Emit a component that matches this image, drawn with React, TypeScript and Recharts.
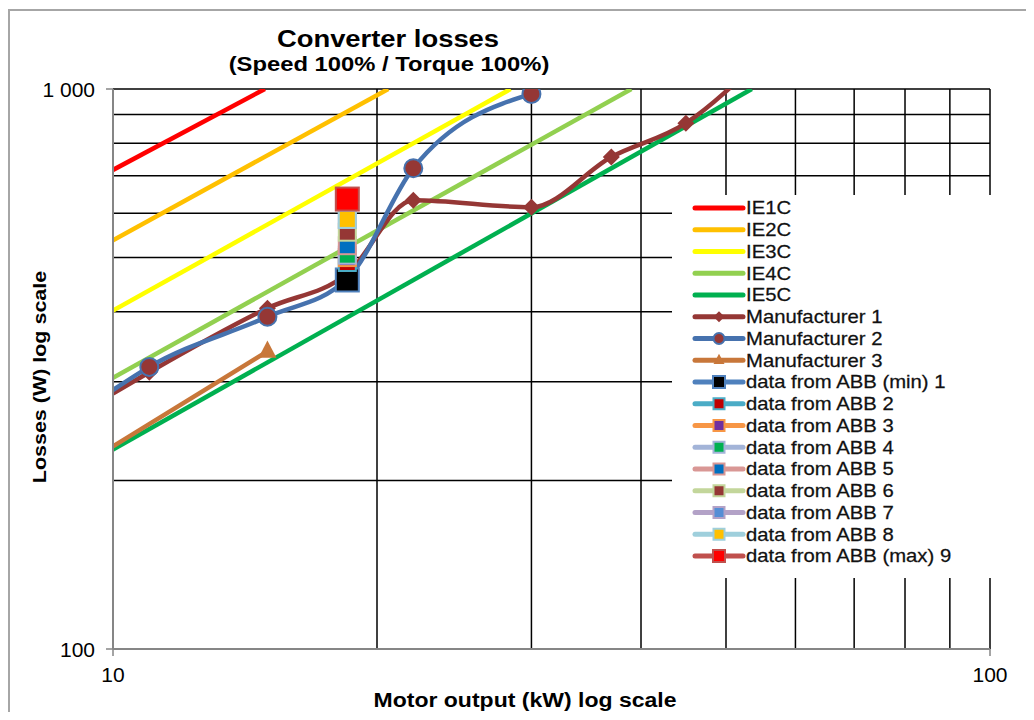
import { CartesianGrid, Line, LineChart, XAxis, YAxis } from "recharts";

// [kW, W] pairs
const ie1c = [[10, 717], [14.9, 1000]];
const ie2c = [[10, 537], [20.6, 1000]];
const ie3c = [[10, 402], [28.4, 1000]];
const ie4c = [[10, 305], [39, 1000]];
const ie5c = [[10, 227], [53.5, 1000]];

const manufacturer1 = [[10, 286], [11, 312], [15, 406], [18.5, 468], [22, 633], [30, 615], [37, 756], [45, 869], [55, 1140]];
const manufacturer2 = [[10, 290], [11, 319], [15, 392], [18.5, 458], [22, 722], [30, 980]];
const manufacturer3 = [[10, 230], [15, 340]];

const abbPower = 18.5;
const abbLosses = [456, 490, 500, 505, 525, 555, 585, 585, 636];
const abbNames = [
  "data from ABB (min) 1",
  "data from ABB 2",
  "data from ABB 3",
  "data from ABB 4",
  "data from ABB 5",
  "data from ABB 6",
  "data from ABB 7",
  "data from ABB 8",
  "data from ABB (max) 9",
];

const xTicks = [10, 100];
const yTicks = [100, 1000];
const xGrid = [20, 30, 40, 50, 60, 70, 80, 90, 100];
const yGrid = [200, 300, 400, 500, 600, 700, 800, 900, 1000];

const toPoints = (rows: number[][]) => rows.map(([x, y]) => ({ x, y }));

const abbLine = ["#4F81BD", "#4BACC6", "#F79646", "#A3B4D8", "#D99795", "#C3D69B", "#B3A2C7", "#9FCFDC", "#C0504D"];
const abbFill = ["#000000", "#C00000", "#7030A0", "#00B050", "#0070C0", "#953735", "#558ED5", "#FFC000", "#FF0000"];

type Marker = "none" | "diamond" | "circle" | "triangle" | "square";

const series = [
  { name: "IE1C", data: ie1c, color: "#FF0000", marker: "none" as Marker, fill: "", smooth: false },
  { name: "IE2C", data: ie2c, color: "#FFC000", marker: "none" as Marker, fill: "", smooth: false },
  { name: "IE3C", data: ie3c, color: "#FFFF00", marker: "none" as Marker, fill: "", smooth: false },
  { name: "IE4C", data: ie4c, color: "#92D050", marker: "none" as Marker, fill: "", smooth: false },
  { name: "IE5C", data: ie5c, color: "#00B050", marker: "none" as Marker, fill: "", smooth: false },
  { name: "Manufacturer 1", data: manufacturer1, color: "#953735", marker: "diamond" as Marker, fill: "#953735", smooth: true },
  { name: "Manufacturer 2", data: manufacturer2, color: "#4672AE", marker: "circle" as Marker, fill: "#953735", smooth: true },
  { name: "Manufacturer 3", data: manufacturer3, color: "#C8773A", marker: "triangle" as Marker, fill: "#C8773A", smooth: false },
  ...abbNames.map((name, i) => ({
    name,
    data: [[abbPower, abbLosses[i]]],
    color: abbLine[i],
    marker: "square" as Marker,
    fill: abbFill[i],
    smooth: false,
  })),
];

function drawMarker(kind: Marker, cx: number, cy: number, fill: string, stroke: string, size: number, key?: string) {
  if (kind === "diamond") {
    const r = size / 2;
    return <polygon key={key} points={`${cx},${cy - r} ${cx + r},${cy} ${cx},${cy + r} ${cx - r},${cy}`} fill={fill} />;
  }
  if (kind === "circle") {
    return <circle key={key} cx={cx} cy={cy} r={size / 2} fill={fill} stroke={stroke} strokeWidth={2} />;
  }
  if (kind === "triangle") {
    const r = size / 2;
    return <polygon key={key} points={`${cx},${cy - r * 1.2} ${cx + r},${cy + r * 0.7} ${cx - r},${cy + r * 0.7}`} fill={fill} />;
  }
  if (kind === "square") {
    return (
      <rect key={key} x={cx - size / 2} y={cy - size / 2} width={size} height={size} fill={fill} stroke={stroke} strokeWidth={2} />
    );
  }
  return <g key={key} />;
}

const markerSize: Record<Marker, number> = { none: 0, diamond: 17, circle: 18, triangle: 18, square: 17 };

const XTick = ({ x, y, payload }: any) => (
  <text x={x} y={y} dy={23} textAnchor="middle" fontSize={21} fill="#000" fontFamily="'Liberation Sans', Arial, sans-serif">
    {payload.value}
  </text>
);

const YTick = ({ x, y, payload }: any) => (
  <text x={x} y={y} dy={7.5} textAnchor="end" fontSize={21} fill="#000" fontFamily="'Liberation Sans', Arial, sans-serif">
    {payload.value === 1000 ? "1 000" : payload.value}
  </text>
);

function Legend() {
  const rowH = 21.75;
  return (
    <svg
      width={332}
      height={383}
      style={{ position: "absolute", left: 664, top: 187 }}
      fontFamily="'Liberation Sans', Arial, sans-serif"
    >
      <rect x={0} y={0} width={332} height={383} fill="#fff" />
      {series.map((s, i) => {
        const cy = 13 + i * rowH;
        const big = s.marker === "square" && (i === 8 || i === 16);
        return (
          <g key={s.name}>
            <line x1={23} x2={71} y1={cy} y2={cy} stroke={s.color} strokeWidth={5} strokeLinecap="round" />
            {s.marker !== "none" &&
              drawMarker(s.marker, 47, cy, s.fill, s.color, s.marker === "square" ? (big ? 12 : 11) : 11)}
            <text
              fontSize={17.8}
              fill="#111"
              stroke="#111"
              strokeWidth={0.25}
              transform={`translate(74 ${cy + 6.4}) scale(1.14 1)`}
            >
              {s.name}
            </text>
          </g>
        );
      })}
    </svg>
  );
}

const stretchText = (scale: number): any => ({
  position: "absolute",
  whiteSpace: "nowrap",
  fontWeight: "bold",
  lineHeight: 1,
  color: "#000",
  transform: `translateX(-50%) scaleX(${scale})`,
});

export default function App() {
  return (
    <div
      style={{
        position: "relative",
        width: 1018,
        height: 704,
        overflow: "hidden",
        background: "#fff",
        fontFamily: "'Liberation Sans', Arial, sans-serif",
      }}
    >
      <div
        style={{
          position: "absolute",
          left: 0,
          top: 1,
          width: 1100,
          height: 800,
          borderLeft: "2px solid #a6a6a6",
          borderTop: "2px solid #a6a6a6",
        }}
      />
      <LineChart width={1018} height={704} margin={{ top: 81, right: 36, bottom: 23, left: 45 }}>
        <CartesianGrid horizontalValues={yGrid} verticalValues={xGrid} stroke="#000" strokeWidth={1.5} />
        <XAxis
          type="number"
          dataKey="x"
          scale="log"
          domain={[10, 100]}
          ticks={xTicks}
          allowDataOverflow
          height={40}
          tickSize={7}
          tickMargin={3}
          axisLine={{ stroke: "#868686", strokeWidth: 2 }}
          tickLine={{ stroke: "#868686", strokeWidth: 1.5 }}
          tick={<XTick />}
        />
        <YAxis
          type="number"
          scale="log"
          domain={[100, 1000]}
          ticks={yTicks}
          allowDataOverflow
          width={60}
          tickSize={7}
          tickMargin={11}
          axisLine={{ stroke: "#868686", strokeWidth: 2 }}
          tickLine={{ stroke: "#868686", strokeWidth: 1.5 }}
          tick={<YTick />}
        />
        {series.map((s, i) => {
          const size = s.marker === "square" && (i === 8 || i === 16) ? 23 : markerSize[s.marker];
          return (
            <Line
              key={s.name}
              data={toPoints(s.data)}
              dataKey="y"
              name={s.name}
              type={s.smooth ? "monotone" : "linear"}
              stroke={s.color}
              strokeWidth={4.5}
              isAnimationActive={false}
              activeDot={false}
              dot={
                s.marker === "none"
                  ? false
                  : (p: any) =>
                      p.payload.x <= 10
                        ? <g key={`m${p.index}`} />
                        : drawMarker(s.marker, p.cx, p.cy, s.fill, s.color, size, `m${p.index}`)
              }
            />
          );
        })}
      </LineChart>

      <div style={{ ...stretchText(1.165), left: 380, top: 20, fontSize: 23.5 }}>Converter losses</div>
      <div style={{ ...stretchText(1.16), left: 381, top: 46, fontSize: 20.5 }}>(Speed 100% / Torque 100%)</div>
      <div style={{ ...stretchText(1.18), left: 517, top: 683, fontSize: 19.5 }}>Motor output (kW) log scale</div>
      <div
        style={{
          position: "absolute",
          left: 31,
          top: 369,
          whiteSpace: "nowrap",
          fontWeight: "bold",
          lineHeight: 1,
          fontSize: 19,
          transform: "translate(-50%, -50%) rotate(-90deg) scaleX(1.13)",
        }}
      >
        Losses (W) log scale
      </div>
      <Legend />
    </div>
  );
}
